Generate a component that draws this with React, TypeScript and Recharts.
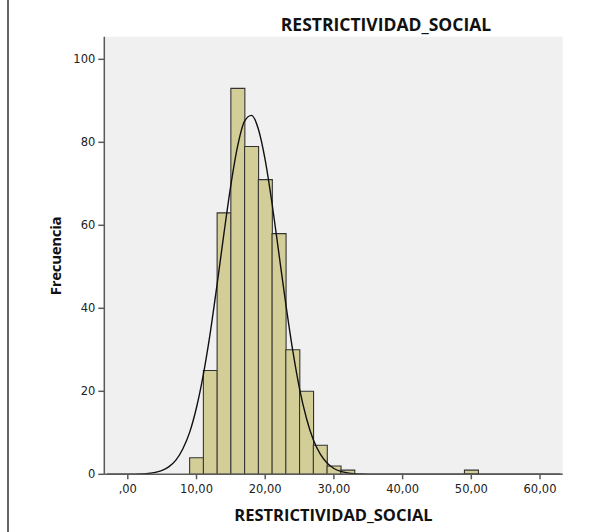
import { Bar, ComposedChart, CartesianGrid, Line, XAxis, YAxis } from "recharts";

// histogram bins (bin width 2)
const binCenters = [10, 12, 14, 16, 18, 20, 22, 24, 26, 28, 30, 32, 50];
const binCounts = [4, 25, 63, 93, 79, 71, 58, 30, 20, 7, 2, 1, 1];

// fitted normal curve
const curveX = [-3, 0, 2, 3, 4, 5, 6, 7, 8, 9, 10, 11, 12, 13, 14, 15, 16, 17, 18, 19, 20, 21, 22, 23, 24, 25, 26, 27, 28, 29, 30, 31, 32, 33, 34, 36, 40, 63];
const curveY = [0, 0.01, 0.09, 0.2, 0.45, 0.93, 1.84, 3.4, 6.1, 10.1, 16.1, 24.1, 34.1, 45.8, 58.1, 69.7, 79.2, 85.1, 86.5, 83.2, 75.7, 65.2, 53.1, 41.0, 29.9, 20.6, 13.5, 8.3, 4.9, 2.7, 1.4, 0.7, 0.33, 0.14, 0.06, 0.01, 0, 0];

const xTicks = [0, 10, 20, 30, 40, 50, 60];
const yTicks = [0, 20, 40, 60, 80, 100];

const title = "RESTRICTIVIDAD_SOCIAL";
const xLabel = "RESTRICTIVIDAD_SOCIAL";
const yLabel = "Frecuencia";

const X_DOMAIN: [number, number] = [-3.42, 63.3];
const Y_DOMAIN: [number, number] = [0, 105.45];

const bins = binCenters.map((c, i) => ({ center: c, count: binCounts[i] }));
const curve = curveX.map((x, i) => ({ x, y: curveY[i] }));

const fmtX = (v: number) => (v === 0 ? ",00" : v.toFixed(2).replace(".", ","));

const tickStyle = { fontFamily: "DejaVu Sans", fontSize: 11.5, fill: "#222" };
const frame = "#5a5a5a";
const labelFont = "'Open Sans', sans-serif";

export default function App() {
  return (
    <div style={{ position: "absolute", left: 0, top: 0, width: 600, height: 532, background: "#fff" }}>
      <div style={{ position: "absolute", left: 7, top: 0, width: 2, height: 532, background: "#666" }} />
      <div style={{ position: "absolute", left: 0, top: 0 }}>
        <ComposedChart width={600} height={532} data={bins} margin={{ top: 36.7, right: 37.3, bottom: 0, left: 0 }} barCategoryGap={0} barGap={0}>
          <CartesianGrid fill="#f0f0f0" horizontal={false} vertical={false} xAxisId="bins" />
          <XAxis
            xAxisId="bins"
            dataKey="center"
            type="number"
            domain={X_DOMAIN}
            allowDataOverflow
            ticks={xTicks}
            tickFormatter={fmtX}
            height={57.7}
            tickSize={5}
            tickMargin={6}
            tick={tickStyle}
            stroke={frame}
            strokeWidth={1.5}
          />
          <XAxis xAxisId="curve" dataKey="x" type="number" domain={X_DOMAIN} allowDataOverflow hide />
          <XAxis xAxisId="top" orientation="top" type="number" domain={X_DOMAIN} height={0} tick={false} tickLine={false} stroke={frame} strokeWidth={1.5} />
          <YAxis
            type="number"
            domain={Y_DOMAIN}
            allowDataOverflow
            ticks={yTicks}
            width={104.3}
            tickSize={6}
            tickMargin={3}
            tick={tickStyle}
            stroke={frame}
            strokeWidth={1.5}
          />
          <YAxis yAxisId="right" orientation="right" type="number" domain={Y_DOMAIN} width={0} tick={false} tickLine={false} stroke={frame} strokeWidth={1.5} />
          <Bar xAxisId="bins" dataKey="count" fill="#d3ce97" stroke="#333" strokeWidth={1.1} isAnimationActive={false} />
          <Line xAxisId="curve" data={curve} dataKey="y" type="monotone" stroke="#111" strokeWidth={1.4} dot={false} activeDot={false} isAnimationActive={false} />
        </ComposedChart>
      </div>
      <svg width={600} height={532} style={{ position: "absolute", left: 0, top: 0, pointerEvents: "none" }}>
        <text x={386} y={31} textAnchor="middle" fontFamily={labelFont} fontWeight={700} fontSize={17.5} fill="#111">
          {title}
        </text>
        <text x={333.5} y={521} textAnchor="middle" fontFamily={labelFont} fontWeight={700} fontSize={16.5} fill="#111">
          {xLabel}
        </text>
        <text x={61} y={256} textAnchor="middle" fontFamily={labelFont} fontWeight={700} fontSize={15} fill="#111" letterSpacing={-0.3} transform="rotate(-90, 61, 256)">
          {yLabel}
        </text>
      </svg>
    </div>
  );
}
